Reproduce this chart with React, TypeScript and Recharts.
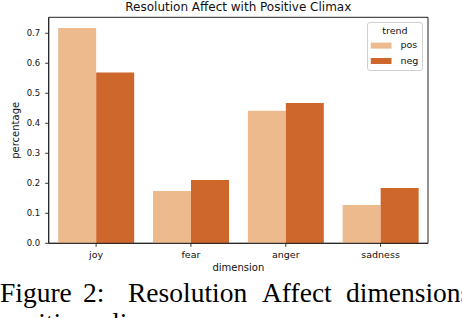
import React from 'react';
import { BarChart, Bar, XAxis, YAxis, Legend, Label, ReferenceArea } from 'recharts';

const categories = ['joy', 'fear', 'anger', 'sadness'];
const posValues = [0.718, 0.174, 0.442, 0.128];
const negValues = [0.569, 0.211, 0.468, 0.184];
const yTicks = [0, 0.1, 0.2, 0.3, 0.4, 0.5, 0.6, 0.7];
const yMax = 0.7533;
const seriesNames = ['pos', 'neg'];
const legendTitle = 'trend';
const chartTitle = 'Resolution Affect with Positive Climax';
const xLabel = 'dimension';
const yLabel = 'percentage';
const captionLine1 = ['Figure', '2:', 'Resolution', 'Affect', 'dimensions'];
const captionLine2 = 'positive climax';

const POS = '#EDBA8E';
const NEG = '#CE672C';
const FONT = 'DejaVu Sans';
const INK = '#111';

const data = categories.map((dim, i) => ({ dim, pos: posValues[i], neg: negValues[i] }));

const renderLegend = (props: any) => {
  const payload = ([...(props.payload || [])] as any[]).sort(
    (a, b) => seriesNames.indexOf(a.value) - seriesNames.indexOf(b.value)
  );
  return (
    <svg width={57} height={50} style={{ display: 'block' }}>
      <rect x={0.5} y={0.5} width={55} height={48} rx={2.5} ry={2.5} fill="rgba(255,255,255,0.8)" stroke="#d0d0d0" strokeWidth={1} />
      <text x={28} y={12.3} textAnchor="middle" fontFamily={FONT} fontSize={9.5} fill={INK}>{legendTitle}</text>
      {payload.map((p, i) => (
        <g key={p.value}>
          <rect x={3.8} y={20.6 + i * 15.4} width={20.7} height={6} fill={p.color} />
          <text x={33.4} y={26.3 + i * 15.2} fontFamily={FONT} fontSize={9.5} fill={INK}>{p.value}</text>
        </g>
      ))}
    </svg>
  );
};

export default function App() {
  return (
    <div style={{ position: 'absolute', left: 0, top: 0, width: 462, height: 318, overflow: 'hidden', background: '#fff' }}>
      <BarChart
        width={462}
        height={318}
        data={data}
        margin={{ top: 17.3, right: 34, bottom: 0, left: 0 }}
        barCategoryGap="10%"
        barGap={0}
      >
        <XAxis
          dataKey="dim"
          interval={0}
          height={74.7}
          tickSize={3.5}
          tickMargin={4}
          axisLine={{ stroke: '#222', strokeWidth: 1 }}
          tickLine={{ stroke: '#222', strokeWidth: 0.9 }}
          tick={{ fontFamily: FONT, fontSize: 9.5, fill: INK }}
        >
          <Label
            content={({ viewBox }: any) => (
              <text x={viewBox.x + viewBox.width / 2} y={viewBox.y + 28} textAnchor="middle" fontFamily={FONT} fontSize={10} fill={INK}>
                {xLabel}
              </text>
            )}
          />
        </XAxis>
        <YAxis
          type="number"
          domain={[0, yMax]}
          ticks={yTicks}
          interval={0}
          width={48.7}
          tickSize={3.5}
          tickMargin={5}
          tickFormatter={(v: number) => v.toFixed(1)}
          axisLine={{ stroke: '#222', strokeWidth: 1 }}
          tickLine={{ stroke: '#222', strokeWidth: 0.9 }}
          tick={{ fontFamily: FONT, fontSize: 8.5, fill: INK }}
        >
          <Label
            content={({ viewBox }: any) => {
              const cx = 16;
              const cy = viewBox.y + viewBox.height / 2;
              return (
                <text x={cx} y={cy} transform={`rotate(-90 ${cx} ${cy})`} textAnchor="middle" dominantBaseline="central" fontFamily={FONT} fontSize={10} fill={INK}>
                  {yLabel}
                </text>
              );
            }}
          />
        </YAxis>
        <Legend
          layout="horizontal"
          verticalAlign="middle"
          align="center"
          content={renderLegend}
          wrapperStyle={{ left: 367, top: 22.3, width: 57, height: 50 }}
        />
        <Bar dataKey="pos" name={seriesNames[0]} fill={POS} isAnimationActive={false} />
        <Bar dataKey="neg" name={seriesNames[1]} fill={NEG} isAnimationActive={false} />
        <ReferenceArea
          x1={categories[0]}
          x2={categories[categories.length - 1]}
          y1={0}
          y2={yMax}
          fill="none"
          fillOpacity={0}
          stroke="#222"
          strokeWidth={1}
          ifOverflow="visible"
        />
      </BarChart>
      <svg width={462} height={318} style={{ position: 'absolute', left: 0, top: 0, pointerEvents: 'none' }}>
        <text x={238.3} y={11} textAnchor="middle" fontFamily={FONT} fontSize={12} fill={INK}>{chartTitle}</text>
        {captionLine1.map((w, i) => (
          <text key={w} x={[0, 83, 128, 262, 346][i]} y={301.7} fontFamily="Liberation Serif" fontSize={27.5} fill="#000">{w}</text>
        ))}
        <text x={0} y={332} fontFamily="Liberation Serif" fontSize={27.5} fill="#000" wordSpacing={6}>{captionLine2}</text>
      </svg>
    </div>
  );
}
